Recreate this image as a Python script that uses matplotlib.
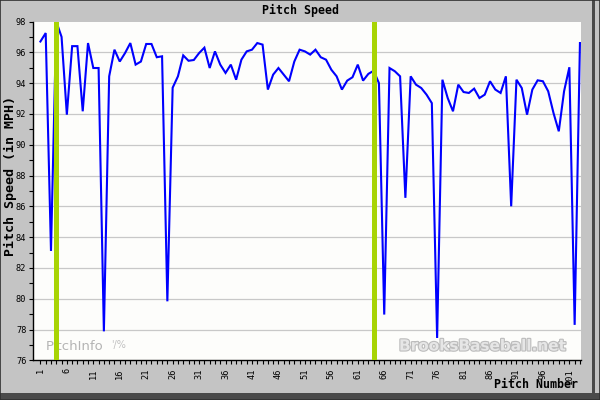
import matplotlib
matplotlib.use("Agg")
import matplotlib.pyplot as plt
import matplotlib.patheffects as pe
from matplotlib.patches import Rectangle

pitch_numbers = list(range(1, 104))
speeds = [
    96.7, 97.25, 83.1, 98.0, 97.0, 91.95, 96.4, 96.4, 92.17, 96.6,
    94.98, 94.98, 77.88, 94.44, 96.17, 95.4, 95.95, 96.6, 95.2, 95.4,
    96.54, 96.54, 95.68, 95.74, 79.83, 93.7, 94.44, 95.8, 95.45, 95.5,
    95.95, 96.3, 94.98, 96.06, 95.2, 94.66, 95.2, 94.22, 95.52, 96.06,
    96.17, 96.6, 96.5, 93.58, 94.55, 94.98, 94.55, 94.12, 95.4, 96.17,
    96.06, 95.85, 96.17, 95.68, 95.52, 94.87, 94.44, 93.58, 94.16, 94.38,
    95.2, 94.16, 94.6, 94.8, 94.0, 78.97, 94.98, 94.77, 94.44, 86.55,
    94.44, 93.9, 93.68, 93.25, 92.7, 77.45, 94.22, 93.03, 92.17, 93.9,
    93.42, 93.36, 93.64, 93.03, 93.25, 94.12, 93.58, 93.36, 94.44, 86.0,
    94.22, 93.68, 91.95, 93.58, 94.18, 94.12, 93.47, 92.06, 90.87, 93.47,
    95.03, 78.3, 96.6,
]
marker_pitches = [4, 64]
x_tick_labels = list(range(1, 102, 5))
y_tick_labels = list(range(76, 99, 2))

mono = "DejaVu Sans Mono"
W, H = 600, 400
fig = plt.figure(figsize=(6, 4), dpi=100)
fig.patch.set_facecolor("#c4c4c4")

# frame / shadow
fig.patches.append(Rectangle((0, 0), 1, 7 / H, transform=fig.transFigure,
                             facecolor="#4a4a4a", edgecolor="none", zorder=0))
fig.patches.append(Rectangle((592 / W, 0), 3 / W, 1, transform=fig.transFigure,
                             facecolor="#4a4a4a", edgecolor="none", zorder=0))
fig.patches.append(Rectangle((0, 0), 1, 1, transform=fig.transFigure,
                             facecolor="none", edgecolor="#303030", lw=1.2, zorder=0))

ax = fig.add_axes([33 / W, 1 - 360.3 / H, (581 - 33) / W, (360.3 - 21.5) / H])
ax.set_facecolor("#fdfdfb")

ax.plot(pitch_numbers, speeds, color="#0000ff", lw=1.5, zorder=3,
        solid_joinstyle="miter")
for mp in marker_pitches:
    ax.axvline(mp, color="#a8d404", lw=3.6, zorder=4)

ax.set_xlim(-0.4, 103.2)
ax.set_ylim(76, 98)

ax.set_yticks(y_tick_labels)
ax.set_yticks(range(76, 99), minor=True)
ax.set_xticks(x_tick_labels)
ax.set_xticks(pitch_numbers, minor=True)
ax.set_xticklabels([str(v) for v in x_tick_labels], rotation=90,
                   fontfamily=mono, fontsize=6.2)
ax.set_yticklabels([str(v) for v in y_tick_labels], fontfamily=mono, fontsize=6.2)
ax.tick_params(axis="both", which="both", direction="out", length=3.2,
               width=0.8, color="black")
ax.tick_params(axis="x", which="major", pad=2.5)
ax.tick_params(axis="y", which="major", pad=1.5)

for g in range(78, 97, 2):
    ax.axhline(g, color="#c8c8c8", lw=0.9, zorder=1)

for s in ["top", "right"]:
    ax.spines[s].set_visible(False)
for s in ["left", "bottom"]:
    ax.spines[s].set_color("black")
    ax.spines[s].set_linewidth(1.0)

# watermarks
ax.text(46 / W, 1 - 346 / H, "PitchInfo", transform=fig.transFigure,
        fontsize=9.5, color="#b4b4b4", ha="left", va="center", zorder=2)
ax.text(111 / W, 1 - 345 / H, "'/%", transform=fig.transFigure,
        fontsize=7, color="#c0c0c0", ha="left", va="center", zorder=2)
ax.text(399 / W, 1 - 346 / H, "BrooksBaseball.net", transform=fig.transFigure,
        fontsize=11, fontweight="bold", color="#e6e6e6", ha="left",
        va="center", zorder=2,
        path_effects=[pe.withStroke(linewidth=1.6, foreground="#bcbcbc")])

fig.text(300 / W, 1 - 10 / H, "Pitch Speed", fontfamily=mono,
         fontweight="bold", fontsize=8.4, ha="center", va="center")
fig.text(10 / W, 1 - 176 / H, "Pitch Speed (in MPH)", fontfamily=mono,
         fontweight="bold", fontsize=9.6, ha="center", va="center", rotation=90)
fig.text(578 / W, 1 - 385 / H, "Pitch Number", fontfamily=mono,
         fontweight="bold", fontsize=8.4, ha="right", va="center")

fig.savefig("out.png", dpi=100, facecolor=fig.get_facecolor())
